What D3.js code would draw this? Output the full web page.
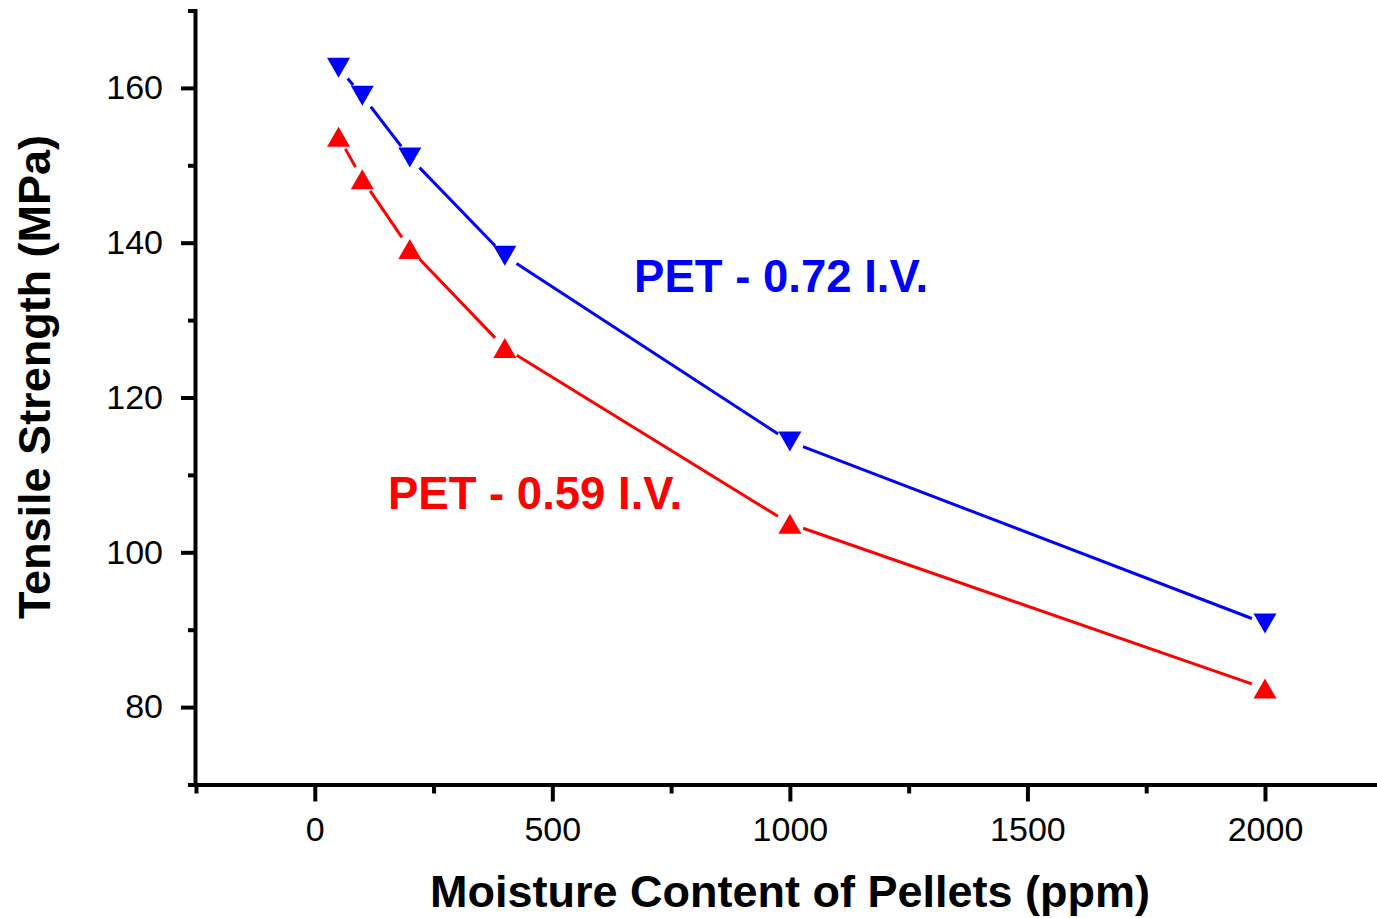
<!DOCTYPE html>
<meta charset="utf-8">
<style>
  body { margin: 0; background: #fff; }
  .axis text { font-family: "Liberation Sans", Arial, sans-serif; font-size: 34px; fill: #000; }
  .axis line { stroke: #000; stroke-width: 4; }
  .axis path { stroke: #000; stroke-width: 4; stroke-linecap: square; fill: none; }
  .title { font-family: "Liberation Sans", Arial, sans-serif; font-weight: bold; font-size: 45px; }
  .label { font-family: "Liberation Sans", Arial, sans-serif; font-weight: bold; font-size: 45.5px; }
</style>
<body>
<svg id="chart" width="1377" height="918"></svg>
<script src="https://d3js.org/d3.v7.min.js"></script>
<script>
  // moisture content (ppm) and tensile strength (MPa)
  var moisture = [50, 100, 200, 400, 1000, 2000];
  var strength072 = [162.6, 159.0, 151.0, 138.3, 114.3, 90.8];
  var strength059 = [153.7, 148.2, 139.2, 126.4, 103.7, 82.4];

  var xMajor = [0, 500, 1000, 1500, 2000],
      xMinor = [-250, 250, 750, 1250, 1750, 2250];
  var yMajor = [80, 100, 120, 140, 160],
      yMinor = [70, 90, 110, 130, 150, 170];

  var seriesNames = ["PET - 0.72 I.V.", "PET - 0.59 I.V."];
  var labelPos = [[672, 133.6], [154, 105.6]];   // data units

  var svg = d3.select("#chart");

  var x = d3.scaleLinear().domain([-250, 2250]).range([196, 1383.75]);
  var y = d3.scaleLinear().domain([70, 170]).range([784.5, 10.5]);

  // minor ticks first (no labels)
  svg.append("g").attr("class", "axis")
      .attr("transform", "translate(0,784.5)")
      .call(d3.axisBottom(x).tickValues(xMinor).tickSize(9).tickSizeOuter(0).tickFormat(""))
      .select(".domain").remove();
  svg.append("g").attr("class", "axis")
      .attr("transform", "translate(195,0)")
      .call(d3.axisLeft(y).tickValues(yMinor).tickSize(7).tickSizeOuter(0).tickFormat(""))
      .select(".domain").remove();

  // major ticks + domain
  svg.append("g").attr("class", "axis")
      .attr("transform", "translate(0,784.5)")
      .call(d3.axisBottom(x).tickValues(xMajor).tickSize(17).tickSizeOuter(0)
            .tickPadding(15).tickFormat(d3.format("d")));
  svg.append("g").attr("class", "axis")
      .attr("transform", "translate(195,0)")
      .call(d3.axisLeft(y).tickValues(yMajor).tickSize(14).tickSizeOuter(0)
            .tickPadding(18).tickFormat(d3.format("d")));

  function gappedSegments(vals) {
    var pts = moisture.map(function (m, i) { return [x(m), y(vals[i])]; });
    var segs = [], gap = 14;
    for (var i = 0; i < pts.length - 1; i++) {
      var p = pts[i], q = pts[i + 1];
      var dx = q[0] - p[0], dy = q[1] - p[1], len = Math.sqrt(dx * dx + dy * dy);
      if (len <= 2 * gap) continue;
      var ux = dx / len, uy = dy / len;
      segs.push([p[0] + ux * gap, p[1] + uy * gap, q[0] - ux * gap, q[1] - uy * gap]);
    }
    return segs;
  }

  var triUp = "M0,-10L11.5,10L-11.5,10Z",
      triDown = "M0,10L11.5,-10L-11.5,-10Z";

  var series = [
    { vals: strength072, color: "#0000ff", marker: triDown },
    { vals: strength059, color: "#ff0000", marker: triUp }
  ];

  series.forEach(function (s, k) {
    var g = svg.append("g");
    g.selectAll("line").data(gappedSegments(s.vals)).enter().append("line")
        .attr("x1", function (d) { return d[0]; })
        .attr("y1", function (d) { return d[1]; })
        .attr("x2", function (d) { return d[2]; })
        .attr("y2", function (d) { return d[3]; })
        .attr("stroke", s.color)
        .attr("stroke-width", 3);
    g.selectAll("path").data(moisture).enter().append("path")
        .attr("d", s.marker)
        .attr("fill", s.color)
        .attr("transform", function (d, i) { return "translate(" + x(d) + "," + y(s.vals[i]) + ")"; });
    svg.append("text").attr("class", "label")
        .attr("x", x(labelPos[k][0]))
        .attr("y", y(labelPos[k][1]))
        .attr("fill", s.color)
        .text(seriesNames[k]);
  });

  svg.append("text").attr("class", "title")
      .attr("x", 790).attr("y", 907)
      .attr("text-anchor", "middle")
      .text("Moisture Content of Pellets (ppm)");

  svg.append("text").attr("class", "title")
      .attr("transform", "translate(50,377) rotate(-90)")
      .attr("text-anchor", "middle")
      .text("Tensile Strength (MPa)");
</script>
</body>
